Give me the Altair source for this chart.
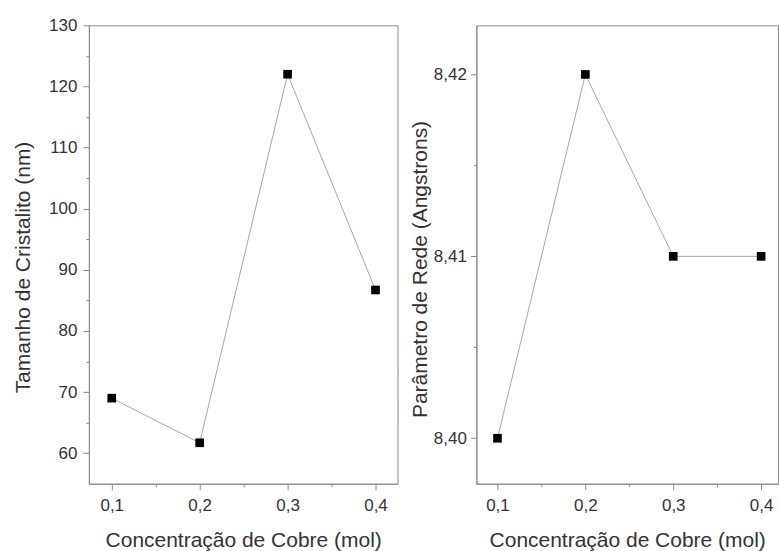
import altair as alt
import pandas as pd

conc = [0.1, 0.2, 0.3, 0.4]
tamanho = [69.0, 61.7, 122.0, 86.7]
parametro = [8.40, 8.42, 8.41, 8.41]

x_ticks = [0.1, 0.15, 0.2, 0.25, 0.3, 0.35, 0.4]
left_y_ticks = [60, 65, 70, 75, 80, 85, 90, 95, 100, 105, 110, 115, 120, 125, 130]
right_y_ticks = [8.400, 8.405, 8.410, 8.415, 8.420]

df_left = pd.DataFrame({"conc": conc, "val": tamanho})
df_right = pd.DataFrame({"conc": conc, "val": parametro})

FONT = "Liberation Sans"
TXT = "#333333"
AX = "#8a8a8a"

x_title = "Concentração de Cobre (mol)"


def x_axis():
    return alt.Axis(
        values=x_ticks,
        labelExpr="round(datum.value*100) % 10 == 0 ? replace(format(datum.value, '.1f'), '.', ',') : ''",
        tickSize={"condition": {"test": "round(datum.value*100) % 10 != 0", "value": 3}, "value": 6},
        labelPadding=8,
        titleBaseline="middle",
        titleY=57,
        grid=False,
    )


def panel(df, ydomain, xdomain, yaxis, w, h):
    base = alt.Chart(df).encode(
        x=alt.X("conc:Q", title=x_title, scale=alt.Scale(domain=xdomain, nice=False, zero=False), axis=x_axis()),
        y=alt.Y("val:Q", scale=alt.Scale(domain=ydomain, nice=False, zero=False), axis=yaxis),
    )
    line = base.mark_line(color="#a8a8a8", strokeWidth=1)
    pts = base.mark_point(shape="square", filled=True, color="black", size=75, opacity=1)
    return (line + pts).properties(width=w, height=h)


left_axis = alt.Axis(
    title="Tamanho de Cristalito (nm)",
    values=left_y_ticks,
    labelExpr="datum.value % 10 == 0 ? datum.label : ''",
    tickSize={"condition": {"test": "datum.value % 10 != 0", "value": 3}, "value": 6},
    labelPadding=6,
    titleBaseline="middle",
    titleX=-65,
    titleY=242,
    grid=False,
)

right_axis = alt.Axis(
    title="Parâmetro de Rede (Angstrons)",
    values=right_y_ticks,
    labelExpr="round(datum.value*1000) % 10 == 0 ? replace(format(datum.value, '.2f'), '.', ',') : ''",
    tickSize={"condition": {"test": "round(datum.value*1000) % 10 != 0", "value": 3}, "value": 6},
    labelPadding=4,
    titleBaseline="middle",
    titleX=-56,
    titleY=244,
    grid=False,
)

left = panel(df_left, [55, 130], [0.074, 0.425], left_axis, 309, 459)
right = panel(df_right, [8.3975, 8.4227], [0.076, 0.4192], right_axis, 302, 459)

chart = (
    alt.hconcat(left, right, spacing=79, bounds="flush")
    .properties(
        padding={"left": 12, "top": 15, "right": 0, "bottom": 0},
        background="white",
    )
    .configure_view(stroke=AX, strokeWidth=1)
    .configure_axis(
        domainColor=AX,
        tickColor=AX,
        labelColor=TXT,
        titleColor=TXT,
        labelFont=FONT,
        titleFont=FONT,
        labelFontSize=17,
        titleFontSize=21,
        titleFontWeight="normal",
    )
)

chart.save("out.html", embed_options={"renderer": "svg", "actions": False})
